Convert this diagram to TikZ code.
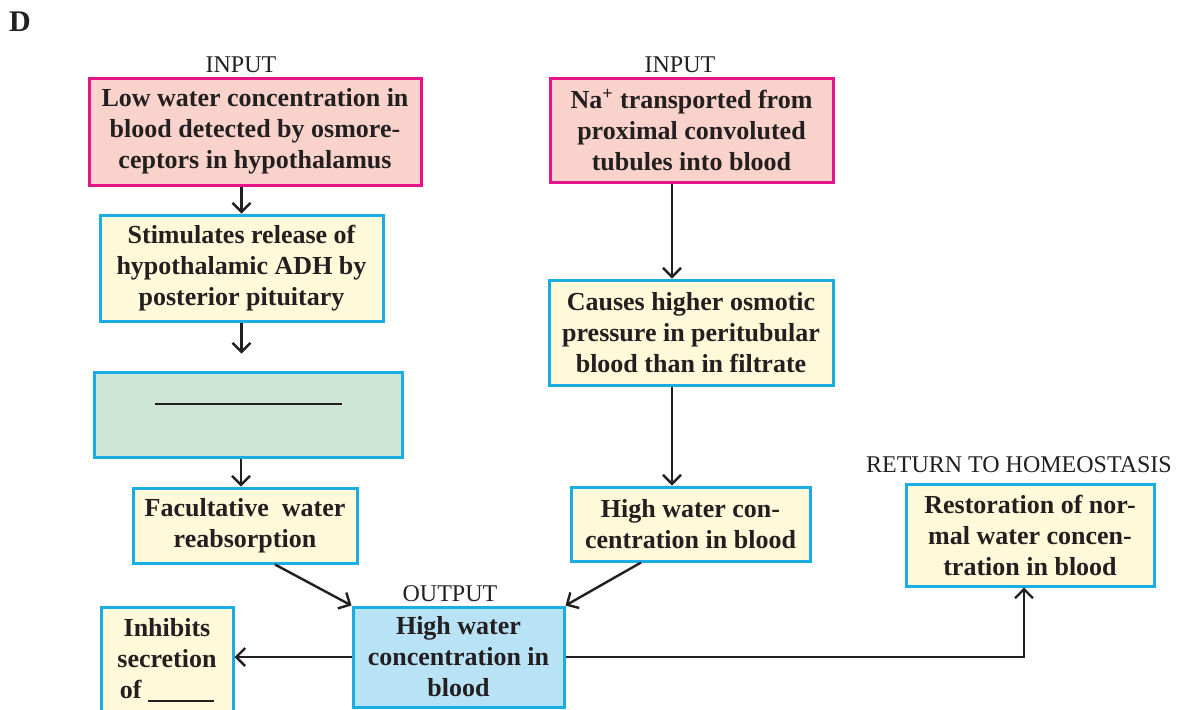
\documentclass[tikz,border=0pt]{standalone}
\usepackage{fontspec}
\setmainfont{Liberation Serif}
\usetikzlibrary{arrows.meta,calc}

\definecolor{inkgray}{HTML}{231F20}
\definecolor{inpink}{HTML}{F9D3CB}
\definecolor{inmagenta}{HTML}{E5168A}
\definecolor{stepyellow}{HTML}{FEF9D8}
\definecolor{stepcyan}{HTML}{1AADE4}
\definecolor{blankgreen}{HTML}{CDE6D6}
\definecolor{outblue}{HTML}{B8E3F7}

\tikzset{
  box/.style={draw, line width=1.5pt, align=center, inner sep=0pt, text=inkgray,
    font=\fontsize{13}{15.5}\selectfont\bfseries},
  inbox/.style={box, draw=inmagenta, fill=inpink},
  stepbox/.style={box, draw=stepcyan, fill=stepyellow},
  tag/.style={text=inkgray, font=\fontsize{12}{14}\selectfont, inner sep=0pt},
  arr/.style={draw=inkgray, line width=1.2pt, -{Straight Barb[length=4.5pt,width=9pt]}},
}

\begin{document}
\begin{tikzpicture}[x=0.5pt,y=-0.5pt]
	%%%%% frame %%%%%
	\useasboundingbox (0,0) rectangle (1179,709);
	\clip (0,0) rectangle (1179,709);

	\node[text=inkgray, font=\fontsize{15}{18}\selectfont\bfseries] (panel) at (20,22) {D};

	%%%%% left column %%%%%
	\node[tag] (inleft) at (241,65) {INPUT};
	\node[inbox, minimum width=166pt, minimum height=53.5pt] (low) at (255,131.5)
		{Low water concentration in\\blood detected by osmore-\\ceptors in hypothalamus};
	\node[stepbox, minimum width=141.5pt, minimum height=53pt] (stim) at (241.5,268)
		{Stimulates release of\\hypothalamic ADH by\\posterior pituitary};
	\node[box, draw=stepcyan, fill=blankgreen, minimum width=154pt, minimum height=42.5pt] (green) at (248,414.5) {};
	\draw[line width=1pt, inkgray] ($(green.center)+(-93.5,-10.5)$) -- ++(187,0);
	\node[stepbox, minimum width=112pt, minimum height=37.5pt] (fac) at (245,525.5)
		{Facultative~ water\\reabsorption};

	%%%%% right column %%%%%
	\node[tag] (inright) at (680,65) {INPUT};
	\node[inbox, minimum width=141.5pt, minimum height=52pt] (na) at (691.5,130)
		{Na\textsuperscript{+} transported from\\proximal convoluted\\tubules into blood};
	\node[stepbox, minimum width=142pt, minimum height=52.5pt] (caus) at (691,332.5)
		{Causes higher osmotic\\pressure in peritubular\\blood than in filtrate};
	\node[stepbox, minimum width=119.5pt, minimum height=37pt] (hwc) at (690.5,524)
		{High water con-\\centration in blood};

	%%%%% bottom row %%%%%
	\node[tag] (outtag) at (450,594) {OUTPUT};
	\node[box, draw=stepcyan, fill=outblue, minimum width=105.5pt, minimum height=50pt] (out) at (458.5,657)
		{High water\\concentration in\\blood};
	\node[stepbox, minimum width=66pt, minimum height=53pt] (inh) at (167,660)
		{Inhibits\\secretion\\of \rule[-1.5pt]{33pt}{0.9pt}};
	\node[tag] (rettag) at (1019,465) {RETURN TO HOMEOSTASIS};
	\node[stepbox, minimum width=124pt, minimum height=51pt] (rest) at (1030,535)
		{Restoration of nor-\\mal water concen-\\tration in blood};

	%%%%% arrows %%%%%
	\draw[arr] (low.south -| stim.north) -- (stim.north);
	\draw[arr] (stim.south) -- ++(0,31);
	\draw[arr] ([xshift=-3.5pt]green.south) -- ([xshift=-3.5pt]green.south |- fac.north);
	\draw[arr] ([xshift=-9.75pt]na.south) -- ([xshift=-9.75pt]na.south |- caus.north);
	\draw[arr] ([xshift=-9.5pt]caus.south) -- ([xshift=-9.5pt]caus.south |- hwc.north);
	\draw[arr] ([xshift=15pt]fac.south) -- (out.north west);
	\draw[arr] ([xshift=-24.75pt]hwc.south) -- (out.north east);
	\draw[arr] (out.west) -- (out.west -| inh.east);
	\draw[arr] (out.east) -| ([xshift=-3pt]rest.south);
\end{tikzpicture}
\end{document}
